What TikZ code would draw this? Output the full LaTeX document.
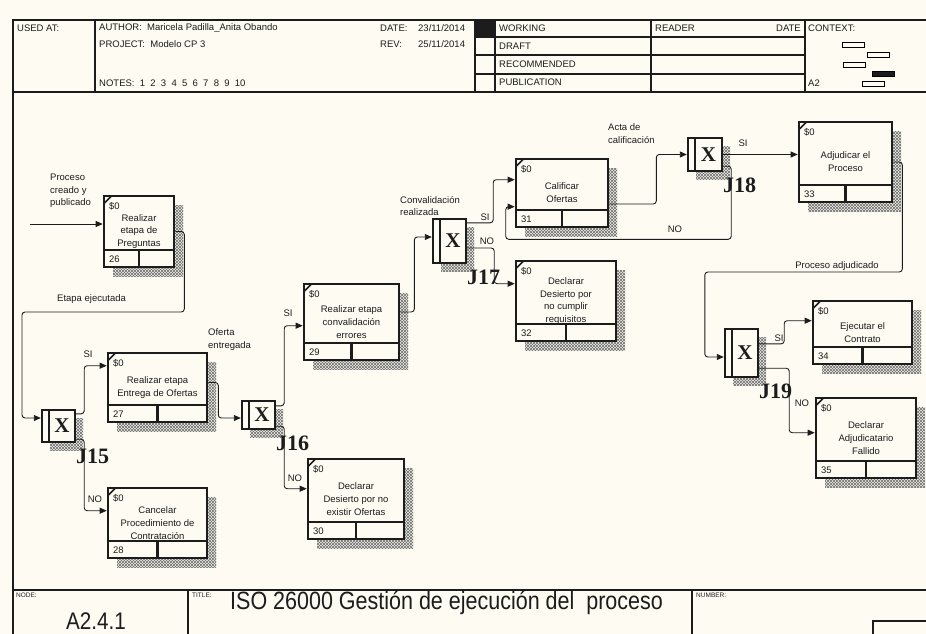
\documentclass[tikz,border=0pt]{standalone}
\usepackage{fontspec}
\setmainfont{Liberation Sans}
\newfontfamily\jfont{Liberation Serif}
\newfontfamily\titlefont[FakeStretch=0.86]{Liberation Sans}
\usetikzlibrary{arrows.meta, calc, patterns.meta}
\definecolor{paper}{RGB}{253,251,242}
\definecolor{ink}{RGB}{28,28,28}
\definecolor{hatch}{RGB}{110,110,110}
\tikzdeclarepattern{
  name=idefhatch,
  type=uncolored,
  bottom left={(-.1pt,-.1pt)},
  top right={(3.1pt,3.1pt)},
  tile size={(3pt,3pt)},
  code={
    \tikzset{x=1pt,y=1pt}
    \draw[line width=0.5pt] (0,0) -- (3,3) (0,3) -- (3,0);
  }
}
\tikzset{
  small/.style={font=\fontsize{9.5}{12.8}\selectfont, text=ink, inner sep=0pt},
  tiny/.style={font=\fontsize{6.5}{7}\selectfont, text=ink, inner sep=0pt, anchor=west},
  actbox/.style={rectangle, draw=ink, fill=paper, line width=2.6pt, inner sep=0pt,
    align=center, font=\fontsize{9.5}{12.8}\selectfont, text=ink},
  jbox/.style={rectangle, draw=ink, fill=paper, line width=2.4pt, inner sep=0pt},
  jmark/.style={font=\jfont\bfseries\fontsize{21}{21}\selectfont, text=ink, inner sep=0pt},
  jlabel/.style={font=\jfont\bfseries\fontsize{22}{22}\selectfont, text=ink,
    inner sep=0pt, anchor=west},
  idefshadow/.style={pattern=idefhatch, pattern color=hatch},
  arrow/.style={-{Triangle[length=7pt,width=6pt]}, line width=0.9pt, draw=ink,
    rounded corners=3pt},
  frame/.style={line width=1.2pt, draw=ink}
}

\begin{document}
\begin{tikzpicture}[x=1pt, y=-1pt]
  \path[fill=paper] (0,0) rectangle (926,634);
  \useasboundingbox (0,0) rectangle (926,634);

  % header
  \draw[frame] (13,634) -- (13,20) -- (926,20) (13,92) -- (926,92);
  \foreach \x in {95,475,495,651,805} \draw[frame] (\x,20) -- (\x,92);
  \foreach \y in {37,55,74} \draw[frame] (475,\y) -- (805,\y);
  \fill[ink] (475,20) rectangle (495,37);
  \node[small, anchor=west] (usedat) at (17,28) {USED AT:};
  \node[small, anchor=west] (author) at (99,28) {AUTHOR:~~Maricela Padilla\_Anita Obando};
  \node[small, anchor=west] (project) at (99,44) {PROJECT:~~Modelo CP 3};
  \node[small, anchor=west] (notes) at (99,83) {NOTES:~~1~~2~~3~~4~~5~~6~~7~~8~~9~~10};
  \node[small, anchor=west] (datehd) at (380,28) {DATE:};
  \node[small, anchor=west] (dateval) at (418,28) {23/11/2014};
  \node[small, anchor=west] (revhd) at (380,44) {REV:};
  \node[small, anchor=west] (revval) at (418,44) {25/11/2014};
  \node[small, anchor=west] (working) at (499,28) {WORKING};
  \node[small, anchor=west] (draft) at (499,46) {DRAFT};
  \node[small, anchor=west] (recomm) at (499,64) {RECOMMENDED};
  \node[small, anchor=west] (public) at (499,82) {PUBLICATION};
  \node[small, anchor=west] (reader) at (655,28) {READER};
  \node[small, anchor=east] (readdate) at (801,28) {DATE};
  \node[small, anchor=west] (context) at (808,28) {CONTEXT:};
  \node[small, anchor=west] (ctxid) at (808,83) {A2};
  \foreach \x/\y/\f in {842/42/paper, 867/52/paper, 843/62/paper, 872/71/ink, 862/81/paper}
    \draw[line width=0.9pt, fill=\f] (\x,\y) rectangle ++(22,5);

  % footer
  \draw[frame] (13,590) -- (926,590) (188,590) -- (188,634) (692,590) -- (692,634)
    (873,634) -- (873,621) -- (926,621);
  \node[tiny] (nodehd) at (16,595) {NODE:};
  \node[tiny] (titlehd) at (192,595) {TITLE:};
  \node[tiny] (numhd) at (696,595) {NUMBER:};
  \node[font=\titlefont\fontsize{24}{24}\selectfont, text=ink, inner sep=0pt] (nodeid) at (96,621) {A2.4.1};
  \node[font=\titlefont\fontsize{25}{25}\selectfont, text=ink, inner sep=0pt, anchor=west]
    (title) at (230,602.5) {ISO 26000 Gestión de ejecución del\ \ proceso};

  % activity boxes
  \foreach \nm/\xa/\ya/\xb/\yb/\txt in {
      26/104/196/174/267/{Realizar\\etapa de\\Preguntas},
      27/108/353/207/422/{Realizar etapa\\Entrega de Ofertas},
      28/108/488/207/558/{Cancelar\\Procedimiento de\\Contratación},
      29/304/284/399/360/{Realizar etapa\\convalidación\\errores},
      30/308/459/404/539/{Declarar\\Desierto por no\\existir Ofertas},
      31/516/159/608/227/{Calificar\\Ofertas},
      32/516/261/616/341/{Declarar\\Desierto por\\no cumplir\\requisitos},
      33/799/122/892/202/{Adjudicar el\\Proceso},
      34/813/301/912/364/{Ejecutar el\\Contrato},
      35/816/398/916/478/{Declarar\\Adjudicatario\\Fallido}} {
    \fill[idefshadow] (\xa+9,\ya+9) rectangle (\xb+9,\yb+9);
    \node[actbox, minimum width={\xb-\xa}, minimum height={\yb-\ya}]
      (b\nm) at ({(\xa+\xb)/2},{(\ya+\yb)/2}) {\txt};
    \draw[line width=2.4pt, draw=ink] (\xa,\yb-17) -- (\xb,\yb-17)
      ({(\xa+\xb)/2},\yb-17) -- ({(\xa+\xb)/2},\yb);
    \draw[line width=1.6pt, draw=ink] ($(b\nm.north west)+(1,9)$) -- ($(b\nm.north west)+(9,1)$);
    \node[small, anchor=west] (c\nm) at (\xa+5,\ya+10) {\$0};
    \node[small, anchor=west] (n\nm) at (\xa+5,\yb-8) {\nm};
  }

  % junctions
  \foreach \nm/\xa/\ya/\xb/\yb in {15/42/410/75/442, 16/242/401/275/429,
      17/433/219/466/263, 18/688/138/722/171, 19/725/329/758/377} {
    \fill[idefshadow] (\xa+8,\ya+8) rectangle (\xb+8,\yb+8);
    \node[jbox, minimum width={\xb-\xa}, minimum height={\yb-\ya}]
      (j\nm) at ({(\xa+\xb)/2},{(\ya+\yb)/2}) {};
    \draw[line width=1.4pt, draw=ink] (\xa+7,\ya) -- (\xa+7,\yb);
    \node[jmark] (x\nm) at ($(j\nm.center)+(3.5,0)$) {X};
    \node[jlabel] (l\nm) at (\xb+1,\yb+14) {J\nm};
  }

  % connectors
  \coordinate (start) at (30,224);
  \draw[arrow] (start) -- (start -| b26.west);
  \draw[arrow] (b26.east) -- ++(9,0) |- (22,312) |- ($(j15.west)+(0,-8)$);
  \draw[arrow] ($(j15.north east)+(0,5)$) -- ++(8,0) |- ($(b27.north west)+(0,14)$);
  \draw[arrow] ($(j15.south east)+(0,-4)$) -- ++(8,0) |- ($(b28.north west)+(0,24)$);
  \draw[arrow] ($(b27.east)+(0,-5)$) -- ++(10,0) |- ($(j16.west)+(0,3)$);
  \draw[arrow] ($(j16.north east)+(0,6)$) -- ++(8,0) |- ($(b29.north west)+(0,43)$);
  \draw[arrow] ($(j16.south east)+(0,-4)$) -- ++(8,0) |- ($(b30.north west)+(0,31)$);
  \draw[arrow] ($(b29.east)+(0,-10)$) -- ++(14,0) |- ($(j17.west)+(0,-4)$);
  \draw[arrow] ($(j17.north east)+(0,5)$) -- ++(26,0) |- ($(b31.north west)+(0,22)$);
  \draw[arrow] ($(j17.east)+(0,7)$) -- ++(27,0) |- ($(b32.north west)+(0,24)$);
  \draw[arrow] ($(b31.east)+(0,11)$) -- ++(47,0) |- (j18.west);
  \draw[arrow] (j18.east) -- (j18.east -| b33.west);
  \draw[arrow] ($(j18.south east)+(0,-6)$) -- ++(8,0) |- ($(b31.south west)+(-9,11)$)
    |- ($(b31.north west)+(0,49)$);
  \draw[arrow] (b33.east) -- ++(9,0) |- ($(j19.west)+(-19,-81)$) |- ($(j19.west)+(0,4)$);
  \draw[arrow] ($(j19.north east)+(0,16)$) -- ++(25,0) |- ($(b34.north west)+(0,21)$);
  \draw[arrow] ($(j19.south east)+(0,-10)$) -- ++(30,0) |- ($(b35.north west)+(0,36)$);

  % connector labels
  \node[small, anchor=north west, align=left] (lblin) at (50,173.5) {Proceso\\creado y\\publicado};
  \node[small, anchor=west] (lbletapa) at (57,299) {Etapa ejecutada};
  \node[small] (si15) at (88,354) {SI};
  \node[small] (no15) at (95,499) {NO};
  \node[small, anchor=north west, align=left] (lblofer) at (208,328.5) {Oferta\\entregada};
  \node[small] (si16) at (288,313) {SI};
  \node[small] (no16) at (295,478) {NO};
  \node[small, anchor=north west, align=left] (lblconv) at (400,196) {Convalidación\\realizada};
  \node[small] (si17) at (485,217) {SI};
  \node[small] (no17) at (487,241) {NO};
  \node[small, anchor=north west, align=left] (lblacta) at (608,123.5) {Acta de\\calificación};
  \node[small] (si18) at (743,143) {SI};
  \node[small] (no18) at (675,229) {NO};
  \node[small] (lbladj) at (837,266) {Proceso adjudicado};
  \node[small] (si19) at (779,338) {SI};
  \node[small] (no19) at (802,403) {NO};
\end{tikzpicture}
\end{document}
